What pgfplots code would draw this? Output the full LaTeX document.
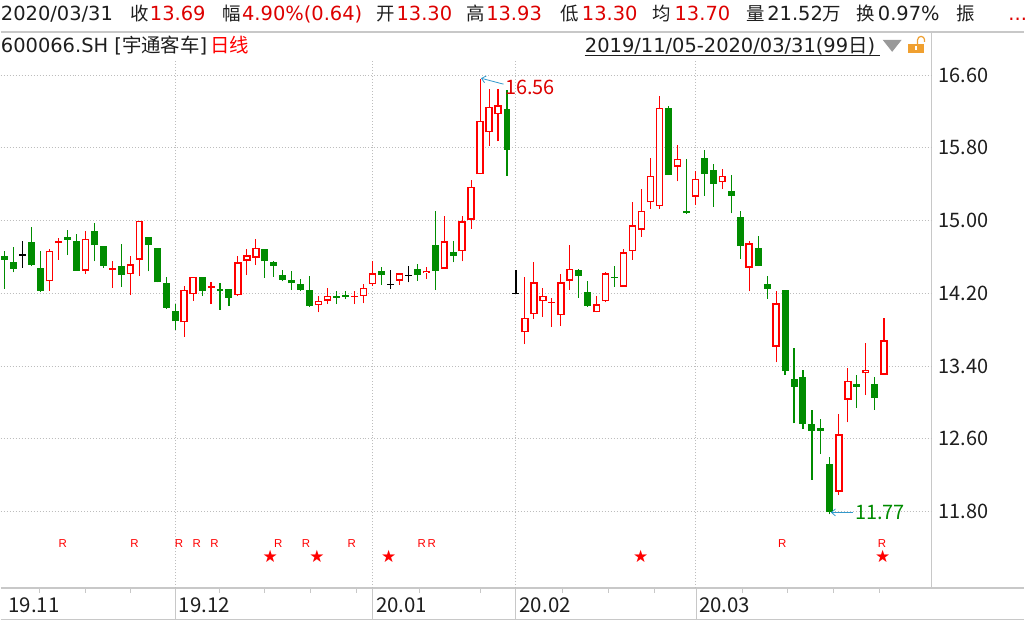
\documentclass[border=0pt]{standalone}
\usepackage{pgfplots}
\pgfplotsset{compat=1.18}
\usepackage{pgfplotstable}
\usetikzlibrary{arrows.meta}
\usepackage{fontspec}
\setmainfont{DejaVu Sans}
\newfontfamily\cjk{Noto Sans CJK SC}
\newfontfamily\lib{Liberation Sans}
\definecolor{cred}{HTML}{FF0000}
\definecolor{cgreen}{HTML}{008C00}
\definecolor{hred}{HTML}{DD0000}
\definecolor{txt}{HTML}{1E1E1E}
\definecolor{gridc}{HTML}{BDBDBD}
\definecolor{linec}{HTML}{C8C8C8}
\definecolor{arrowc}{HTML}{3399CC}
\definecolor{lockc}{HTML}{F0A030}
\newcommand\hf{\fontsize{19.5}{22}\selectfont}
\newcommand\cf{\cjk\fontsize{18.5}{22}\selectfont}
\newcommand\nf{\cjk\fontsize{20}{22}\selectfont}

% green (falling) candles: i open high low close
\pgfplotstableread{
i o h l c
0 14.61 14.67 14.25 14.57
1 14.54 14.71 14.43 14.47
3 14.76 14.93 14.50 14.51
4 14.48 14.66 14.21 14.23
7 14.82 14.90 14.62 14.79
8 14.78 14.85 14.45 14.45
10 14.89 14.97 14.55 14.73
11 14.72 14.72 14.48 14.50
13 14.50 14.74 14.27 14.40
16 14.82 14.82 14.44 14.73
17 14.70 14.70 14.32 14.32
18 14.31 14.38 14.03 14.04
19 14.01 14.08 13.80 13.89
22 14.38 14.38 14.17 14.23
24 14.25 14.31 14.02 14.22
25 14.25 14.25 14.06 14.15
29 14.69 14.69 14.37 14.55
30 14.54 14.55 14.38 14.50
31 14.40 14.46 14.33 14.35
32 14.35 14.44 14.24 14.31
33 14.30 14.36 14.22 14.24
34 14.24 14.39 14.05 14.06
42 14.44 14.49 14.29 14.40
46 14.47 14.52 14.34 14.40
48 14.73 15.10 14.24 14.45
50 14.65 14.77 14.54 14.61
56 16.23 16.44 15.49 15.78
64 14.46 14.47 14.15 14.39
65 14.21 14.33 14.05 14.06
74 16.24 16.26 15.50 15.50
76 15.10 15.68 15.07 15.08
78 15.69 15.78 15.27 15.51
79 15.56 15.62 15.15 15.40
81 15.32 15.50 15.08 15.27
82 15.04 15.11 14.58 14.72
84 14.70 14.83 14.50 14.50
85 14.30 14.39 14.14 14.25
87 14.24 14.24 13.30 13.34
88 13.26 13.60 12.77 13.17
89 13.28 13.36 12.71 12.76
90 12.76 12.92 12.15 12.69
91 12.72 12.82 12.43 12.69
92 12.32 12.40 11.77 11.80
95 13.20 13.30 12.94 13.17
97 13.20 13.28 12.92 13.05
}\tG

% red (rising) hollow candles
\pgfplotstableread{
i o h l c
5 14.33 14.69 14.23 14.67
9 14.45 14.88 14.41 14.80
14 14.41 14.61 14.18 14.52
15 14.57 15.00 14.39 15.00
20 13.88 14.28 13.72 14.24
21 14.19 14.38 14.12 14.38
26 14.18 14.61 14.17 14.54
27 14.56 14.69 14.40 14.62
28 14.59 14.80 14.51 14.70
35 14.07 14.17 13.99 14.12
36 14.12 14.26 14.08 14.17
40 14.17 14.30 14.09 14.26
41 14.30 14.55 14.28 14.42
44 14.34 14.42 14.29 14.42
47 14.42 14.49 14.36 14.45
49 14.47 15.05 14.47 14.77
51 14.66 15.05 14.55 14.99
52 15.01 15.45 14.91 15.37
53 15.51 16.56 15.51 16.10
54 15.97 16.45 15.82 16.25
55 16.17 16.45 15.87 16.27
58 13.77 14.38 13.64 13.93
59 13.97 14.54 13.92 14.32
60 14.11 14.26 13.94 14.17
62 13.96 14.41 13.84 14.32
63 14.34 14.73 14.24 14.47
66 13.99 14.17 13.99 14.08
67 14.11 14.43 14.10 14.42
69 14.27 14.69 14.27 14.65
70 14.66 15.20 14.57 14.95
71 14.90 15.35 14.82 15.11
72 15.20 15.69 15.13 15.49
73 15.16 16.37 15.13 16.24
75 15.59 15.83 15.43 15.68
77 15.26 15.55 15.17 15.46
80 15.42 15.57 15.35 15.49
83 14.48 14.77 14.22 14.75
86 13.61 14.23 13.44 14.09
93 12.02 12.87 11.98 12.65
94 13.03 13.38 12.78 13.24
96 13.32 13.65 13.08 13.36
}\tR

% red candles with a very small body
\pgfplotstableread{
i o h l c
6 14.75 14.81 14.57 14.77
12 14.46 14.55 14.26 14.48
23 14.26 14.32 14.08 14.28
39 14.16 14.22 14.08 14.17
}\tRS

% doji: black, green, red
\pgfplotstableread{
i o h l c
2 14.62 14.78 14.48 14.62
43 14.30 14.46 14.25 14.30
45 14.40 14.50 14.32 14.40
57 14.20 14.46 14.20 14.20
}\tDk
\pgfplotstableread{
i o h l c
37 14.16 14.23 14.08 14.16
38 14.17 14.23 14.14 14.17
68 14.37 14.50 14.27 14.37
}\tDg
\pgfplotstableread{
i o h l c
61 14.10 14.15 13.83 14.10
}\tDr
% last (selected) day 2020/03/31
\pgfplotstableread{
i o h l c
98 13.30 13.93 13.30 13.69
}\tL

\pgfplotsset{
  wick/.style 2 args={draw=none, forget plot, error bars/.cd, y dir=plus, y explicit,
     error mark=none, error bar style={draw=#1, line width=#2}},
  body/.style 2 args={draw=none, forget plot, error bars/.cd, y dir=plus, y explicit,
     error mark=none, error bar style={draw=#1, line width=#2}},
  cross/.style={draw=none, forget plot, error bars/.cd, x dir=both, x fixed=0.39,
     error mark=none, error bar style={draw=#1, line width=1.2pt}},
}

\begin{document}
\begin{tikzpicture}[x=1pt,y=1pt]
\fill[white] (0,0) rectangle (1027,625);
% header row 1
\begin{scope}[every node/.style={anchor=base west, inner sep=0pt, text=txt}]
\node at (0,604) {\hf 2020/03/31};
\node at (130,604) {\cf 收};
\node[text=hred] at (149.5,604) {\hf 13.69};
\node at (222,604) {\cf 幅};
\node[text=hred] at (242,604) {\hf 4.90\%(0.64)};
\node at (377,604) {\cf 开};
\node[text=hred] at (397,604) {\hf 13.30};
\node at (467,604) {\cf 高};
\node[text=hred] at (487,604) {\hf 13.93};
\node at (561,604) {\cf 低};
\node[text=hred] at (583,604) {\hf 13.30};
\node at (654,604) {\cf 均};
\node[text=hred] at (676,604) {\hf 13.70};
\node at (748,604) {\cf 量};
\node at (769,604) {\hf 21.52{\cf 万}};
\node at (859,604) {\cf 换};
\node at (880,604) {\hf 0.97\%};
\node at (959,604) {\cf 振};
\node[text=hred] at (1011,604) {\hf ...};
% header row 2
\node at (0,572) {\hf 600066.SH [{\cjk 宇通客车}]};
\node[text=cred] at (210,572) {\hf\cjk 日线};
\node at (586,572) {\hf 2019/11/05-2020/03/31(99{\cjk 日})};
\end{scope}
\draw[txt, line width=1pt] (586,569.5) -- (882,569.5);
\fill[black!40] (885,585) -- (904,585) -- (894.5,573) -- cycle;
\fill[lockc] (910,572) rectangle (926,581);
\draw[lockc, line width=1.2pt] (920,581) -- (920,585) arc (180:0:3.5) -- (927,583);
\fill[white] (917,574.5) rectangle (919,578.5);
% frame lines
\draw[linec, line width=1.5pt] (0,593) -- (1027,593);
\draw[linec, line width=1pt] (934,593) -- (934,35);
\draw[linec, line width=1.5pt] (0,35) -- (1027,35);
\draw[linec, line width=1.5pt] (0,3.5) -- (1027,3.5);
\foreach \mx in {175,373,517,698} \draw[linec, line width=1pt] (\mx,35) -- (\mx,3.5);

\begin{axis}[
  at={(0pt,35pt)}, anchor=south west,
  scale only axis, width=934pt, height=530pt,
  xmin=-0.4444, xmax=103.333,
  ymin=10.9595, ymax=16.7677,
  axis line style={draw=none},
  xtick={19,41,57,77},
  xticklabels={19.12,20.01,20.02,20.03},
  extra x ticks={0}, extra x tick labels={19.11},
  extra x tick style={grid=none},
  minor xtick={3.9,9,14,23.9,29,34.1,39.2,46.2,53.1,62.2,67.3,72.4,82.3,87.3,92.4,97.5},
  xtick pos=bottom, ytick pos=right,
  tick align=outside,
  major tick length=0pt, minor tick length=5pt,
  minor tick style={draw=linec, line width=1pt},
  xticklabel style={anchor=west, inner sep=0pt, yshift=-17pt, xshift=3.5pt,
     font=\cjk\fontsize{20.5}{22}\selectfont, text=txt},
  ytick={11.8,12.6,13.4,14.2,15,15.8,16.6},
  yticklabel pos=right,
  yticklabel style={anchor=west, inner sep=0pt, xshift=7pt,
     font=\nf, text=txt,
     /pgf/number format/.cd, fixed, fixed zerofill, precision=2, assume math mode=true},
  grid=major,
  major grid style={draw=gridc, line width=1pt, dash pattern=on 1pt off 2pt},
  clip=false,
]
% wicks
\addplot[wick={cgreen}{1.1pt}] table[x=i, y=l, y error expr=\thisrow{h}-\thisrow{l}] {\tG};
\addplot[wick={cred}{1.1pt}] table[x=i, y=l, y error expr=\thisrow{h}-\thisrow{l}] {\tR};
\addplot[wick={cred}{1.1pt}] table[x=i, y=l, y error expr=\thisrow{h}-\thisrow{l}] {\tRS};
\addplot[wick={black}{1.1pt}] table[x=i, y=l, y error expr=\thisrow{h}-\thisrow{l}] {\tDk};
\addplot[wick={cgreen}{1.1pt}] table[x=i, y=l, y error expr=\thisrow{h}-\thisrow{l}] {\tDg};
\addplot[wick={cred}{1.1pt}] table[x=i, y=l, y error expr=\thisrow{h}-\thisrow{l}] {\tDr};
\addplot[wick={cred}{2pt}] table[x=i, y=l, y error expr=\thisrow{h}-\thisrow{l}] {\tL};
% bodies
\addplot[body={cgreen}{7pt}] table[x=i, y=c, y error expr=\thisrow{o}-\thisrow{c}] {\tG};
\addplot[body={cred}{7.4pt}] table[x=i, y=o, y error expr=\thisrow{c}-\thisrow{o}] {\tR};
\addplot[body={white}{4.4pt}] table[x=i, y expr=\thisrow{o}+0.016, y error expr=\thisrow{c}-\thisrow{o}-0.032] {\tR};
\addplot[body={cred}{7pt}] table[x=i, y=o, y error expr=\thisrow{c}-\thisrow{o}] {\tRS};
\addplot[body={cred}{8pt}] table[x=i, y=o, y error expr=\thisrow{c}-\thisrow{o}] {\tL};
\addplot[body={white}{4pt}] table[x=i, y expr=\thisrow{o}+0.022, y error expr=\thisrow{c}-\thisrow{o}-0.044] {\tL};
\addplot[cross=black] table[x=i, y=o] {\tDk};
\addplot[cross=cgreen] table[x=i, y=o] {\tDg};
\addplot[cross=cred] table[x=i, y=o] {\tDr};
% event markers
\addplot[only marks, forget plot, color=cred, mark=text, text mark={R}, text mark as node=true,
  text mark style={font=\lib\fontsize{11.5}{12}\selectfont, text=cred, inner sep=0pt}]
  coordinates {(6.48,11.45) (14.48,11.45) (19.43,11.45) (21.4,11.45) (23.4,11.45) (30.5,11.45)
   (33.6,11.45) (38.7,11.45) (46.5,11.45) (47.6,11.45) (86.7,11.45) (97.8,11.45)};
\addplot[only marks, forget plot, color=cred, mark=text, text mark={★}, text mark as node=true,
  text mark style={font=\fontsize{17}{17}\selectfont, text=cred, inner sep=0pt}]
  coordinates {(29.6,11.31) (34.8,11.31) (42.8,11.31) (70.9,11.31) (97.9,11.31)};
% max / min annotations
\draw[arrowc, line width=0.8pt, -{Straight Barb[length=4pt,width=7pt]}] (axis cs:55.6,16.50) -- (axis cs:53.1,16.565);
\node[anchor=west, inner sep=0pt, text=hred, font=\nf] at (axis cs:55.78,16.461) {16.56};
\draw[arrowc, line width=0.8pt, -{Straight Barb[length=4pt,width=7pt]}] (axis cs:94.56,11.79) -- (axis cs:92.11,11.79);
\node[anchor=west, inner sep=0pt, text=cgreen, font=\nf] at (axis cs:94.78,11.792) {11.77};
\end{axis}
\end{tikzpicture}
\end{document}
